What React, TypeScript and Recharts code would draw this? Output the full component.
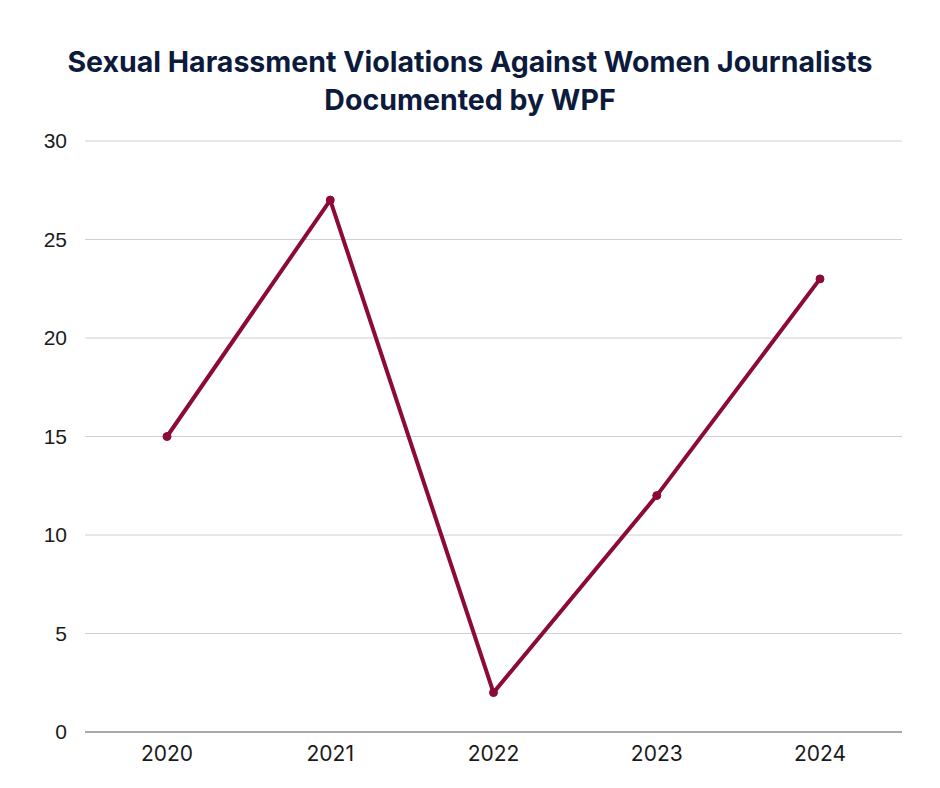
import React from "react";
import { LineChart, Line, XAxis, YAxis, CartesianGrid } from "recharts";

const years = ["2020", "2021", "2022", "2023", "2024"];
const violations = [15, 27, 2, 12, 23];
const yTicks = [0, 5, 10, 15, 20, 25, 30];
const titleLines = [
  "Sexual Harassment Violations Against Women Journalists",
  "Documented by WPF",
];

const data = years.map((y, i) => ({ year: y, value: violations[i] }));

export default function App() {
  return (
    <div
      style={{
        position: "absolute",
        left: 0,
        top: 0,
        width: 940,
        height: 788,
        background: "#ffffff",
      }}
    >
      <div
        style={{
          position: "absolute",
          left: 0,
          top: 43,
          width: 940,
          textAlign: "center",
          fontFamily: "Inter, 'Noto Sans', sans-serif",
          fontWeight: 700,
          fontSize: 28.5,
          lineHeight: "38px",
          color: "#0c1a3c",
          letterSpacing: "0px",
        }}
      >
        {titleLines.map((t) => (
          <div key={t}>{t}</div>
        ))}
      </div>
      <LineChart
        width={940}
        height={788}
        data={data}
        margin={{ top: 141, right: 38, left: 0, bottom: 16 }}
      >
        <CartesianGrid vertical={false} stroke="#d0d0d0" strokeWidth={1} />
        <XAxis
          dataKey="year"
          tickLine={false}
          axisLine={{ stroke: "#a8a8a8", strokeWidth: 2 }}
          tickSize={0}
          tickMargin={14}
          height={40}
          padding={{ left: 82, right: 82 }}
          tick={{ fill: "#1a1a1a", fontSize: 21, fontFamily: "Inter, sans-serif" }}
        />
        <YAxis
          width={85}
          domain={[0, 30]}
          ticks={yTicks}
          tickLine={false}
          axisLine={false}
          tickSize={0}
          tickMargin={18}
          tick={{ fill: "#1a1a1a", fontSize: 21, fontFamily: "'Liberation Sans', Arial, sans-serif" }}
        />
        <Line
          type="linear"
          dataKey="value"
          stroke="#8c0a38"
          strokeWidth={4}
          dot={{ r: 4, fill: "#8c0a38", stroke: "#8c0a38", strokeWidth: 1 }}
          isAnimationActive={false}
        />
      </LineChart>
    </div>
  );
}
